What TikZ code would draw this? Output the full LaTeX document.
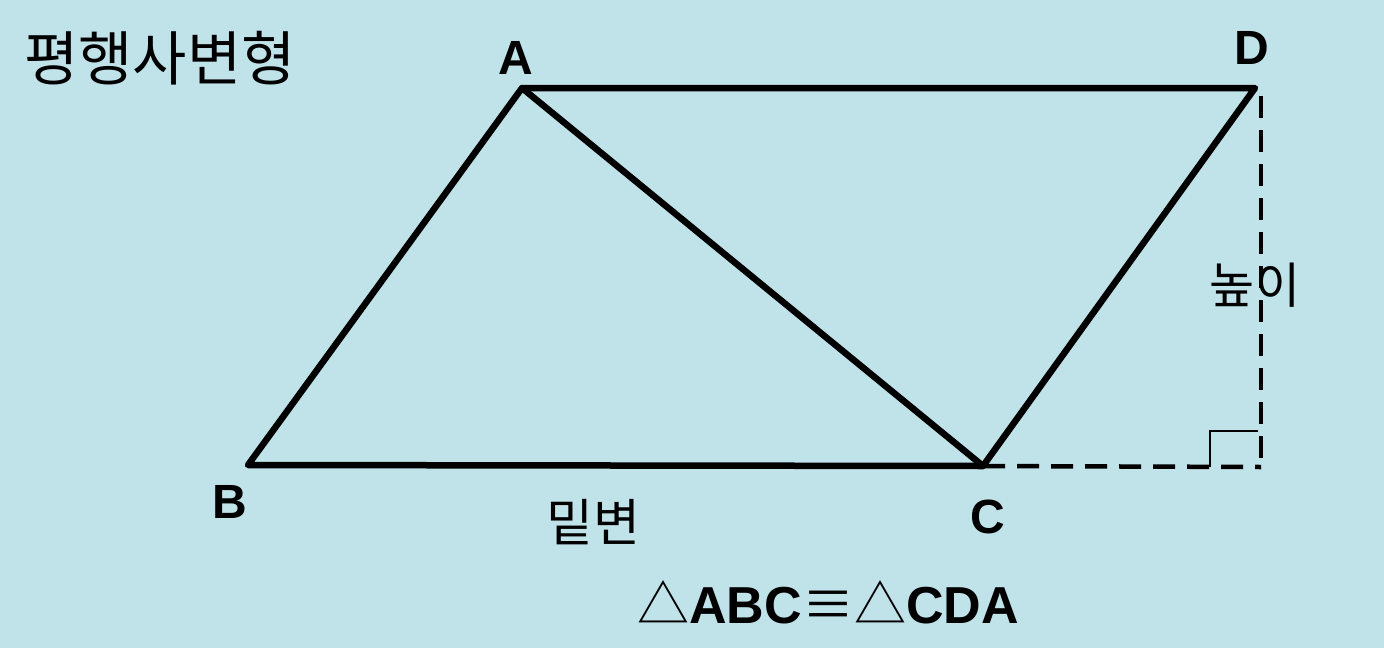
\documentclass[tikz,border=0pt]{standalone}
\usepackage{fontspec}
\setmainfont{Liberation Sans}
\newfontfamily\kor{Noto Sans CJK KR}
\definecolor{paper}{RGB}{192,226,233}

\begin{document}
\begin{tikzpicture}[x=1pt, y=-1pt,
    side/.style={line width=6.5pt, line join=round, line cap=round},
    guide/.style={line width=4.5pt, dash pattern=on 22pt off 12pt},
    vertex/.style={font=\fontsize{48}{50}\selectfont\bfseries},
    hangul/.style={font=\kor\fontsize{51}{53}\selectfont}]
        \fill[paper] (0,0) rectangle (1384,648);
        \useasboundingbox (0,0) rectangle (1384,648);
        \coordinate (A) at (522,88);
        \coordinate (B) at (248,465);
        \coordinate (C) at (983,466);
        \coordinate (D) at (1255,88);
        \coordinate (F) at (1261,467);
        \draw[side] (A) -- (B) -- (C) -- (D) -- cycle;
        \draw[side] (A) -- (C);
        \draw[guide] (C) -- (F);
        \draw[guide] (1261,96) -- (F);
        \draw[line width=2pt] (1210,467) -- (1210,431) -- (1258,431);
        \node[vertex] (lA) at (516,58) {A};
        \node[vertex] (lB) at (230,502) {B};
        \node[vertex] (lC) at (988,517) {C};
        \node[vertex] (lD) at (1252,48) {D};
        \node[hangul, font=\kor\fontsize{59}{61}\selectfont] (title) at (160,58) {평행사변형};
        \node[hangul] (base) at (593,522) {밑변};
        \node[hangul, font=\kor\fontsize{49}{51}\selectfont] (height) at (1255,285) {높이};
        \node[font=\fontsize{52}{54}\selectfont\bfseries] (eq) at (828,602) {{\kor\mdseries △}ABC{\kor\mdseries ≡△}CDA};
    \end{tikzpicture}
\end{document}
